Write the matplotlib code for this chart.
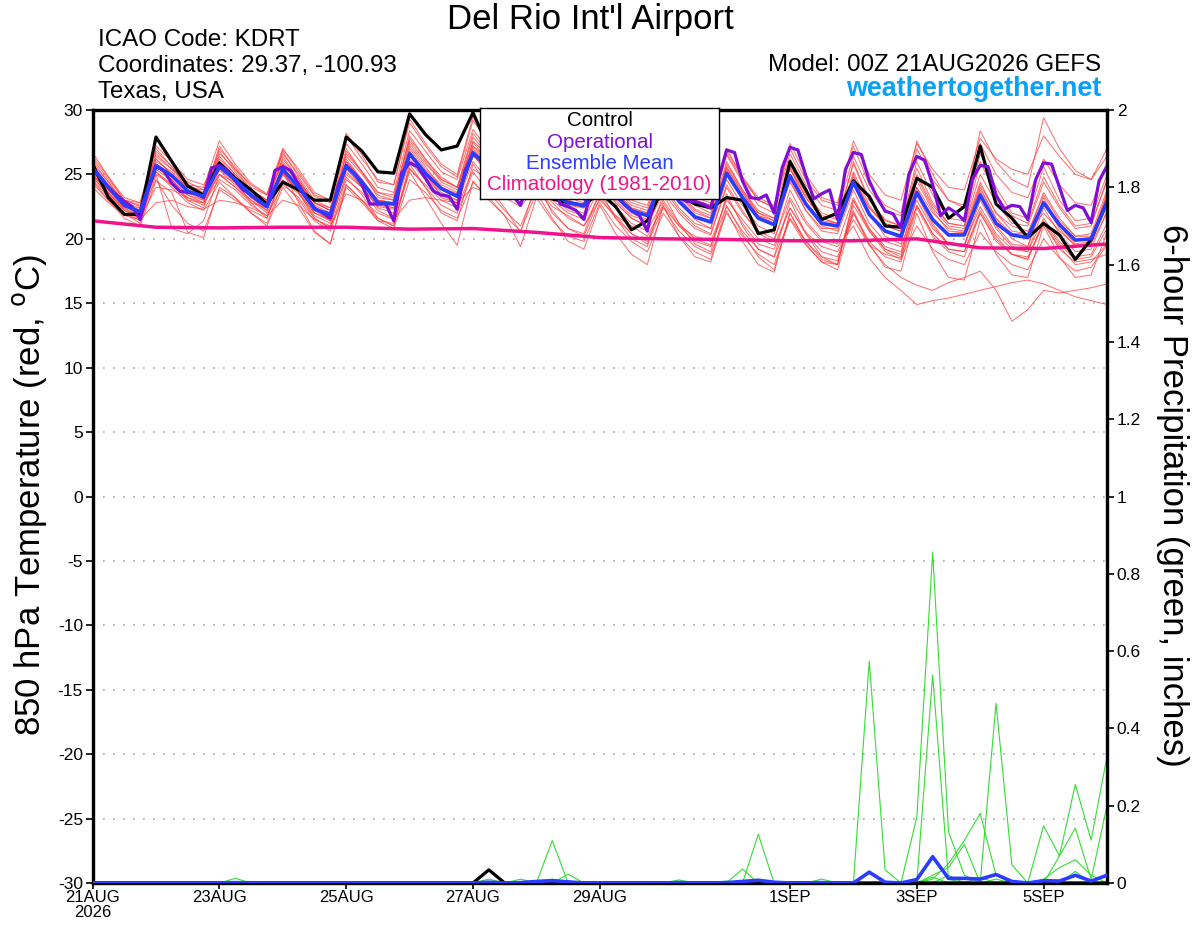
import matplotlib
matplotlib.use('Agg')
import matplotlib.pyplot as plt
import numpy as np

plt.rcParams['font.family'] = ['Liberation Sans', 'DejaVu Sans']

# ---------------- data ----------------
tick_days = [0, 2, 4, 6, 8, 11, 13, 15]
tick_labels = ['21AUG\n2026', '23AUG', '25AUG', '27AUG', '29AUG', '1SEP', '3SEP', '5SEP']
y_ticks_t = [-30, -25, -20, -15, -10, -5, 0, 5, 10, 15, 20, 25, 30]
y_ticks_p = [0, 0.2, 0.4, 0.6, 0.8, 1.0, 1.2, 1.4, 1.6, 1.8, 2.0]

control_t = [25.8, 23.2, 21.9, 21.9, 27.9, 26.0, 24.1, 23.4, 25.9, 24.7, 23.8, 22.7,
             24.4, 23.8, 23.0, 23.0, 27.9, 26.8, 25.2, 25.1, 29.7, 28.1, 26.9, 27.2,
             29.8, 27.0, 25.2, 24.3, 26.5, 23.1, 22.8, 22.6, 23.6, 22.5, 20.7, 21.4,
             24.0, 23.4, 22.7, 22.4, 23.2, 23.0, 20.4, 20.7, 26.0, 23.8, 21.5, 22.0,
             24.5, 23.3, 21.0, 20.9, 24.7, 24.0, 21.6, 22.5, 27.2, 22.7, 21.6, 20.1,
             21.2, 20.3, 18.4, 19.95, 22.9]

mean_t = [25.5, 24.0, 22.6, 22.1, 25.7, 24.9, 23.7, 23.3, 25.6, 24.6, 23.4, 22.5,
          25.4, 24.0, 22.3, 21.9, 25.7, 24.4, 22.8, 22.7, 26.6, 25.1, 23.9, 23.3,
          26.7, 25.5, 24.6, 23.6, 25.8, 23.6, 22.8, 22.6, 25.0, 23.3, 22.2, 21.8,
          24.6, 22.9, 21.7, 21.3, 25.1, 23.2, 21.6, 21.1, 24.9, 22.7, 21.2, 21.0,
          24.4, 21.9, 20.6, 20.2, 23.6, 21.5, 20.3, 20.3, 23.4, 21.2, 20.3, 20.1,
          22.8, 21.1, 19.9, 20.0, 22.8]

# operational run, 3-hourly
oper_t = [25.5, 24.8, 24.0, 23.4, 22.9, 22.5, 21.5, 23.8, 25.6, 25.3, 24.3, 23.7,
          23.6, 23.5, 23.2, 25.5, 25.7, 25.3, 24.5, 23.8, 23.4, 22.9, 22.5, 25.3,
          25.6, 25.3, 24.2, 23.2, 22.4, 22.0, 21.6, 24.2, 25.6, 25.1, 24.2, 22.7,
          22.7, 22.7, 21.4, 25.1, 25.9, 25.6, 24.7, 23.7, 23.4, 23.3, 22.3, 25.3,
          26.6, 26.2, 25.5, 24.5, 23.8, 23.4, 22.6, 24.8, 26.0, 25.6, 24.6, 22.7,
          22.5, 22.2, 21.5, 24.0, 25.3, 24.8, 23.8, 22.7, 22.2, 21.8, 20.6, 23.5,
          25.0, 24.6, 23.2, 22.9, 22.9, 22.7, 22.4, 24.7, 26.9, 26.7, 24.5, 23.2,
          23.1, 23.4, 22.0, 25.5, 27.1, 26.9, 24.9, 23.1, 23.5, 23.8, 21.5, 25.4,
          26.7, 26.55, 24.5, 23.2, 22.15, 21.95, 20.85, 25.0, 26.4, 26.1, 24.2, 21.8,
          22.4, 22.0, 21.4, 24.6, 25.7, 25.6, 23.4, 22.3, 22.6, 22.5, 21.5, 24.6,
          25.9, 25.8, 24.0, 22.2, 22.6, 22.4, 21.25, 24.5, 25.65]

# climatology, daily
clim_t = [21.4, 20.9, 20.85, 20.9, 20.9, 20.75, 20.8, 20.5, 20.1, 20.0,
          19.95, 19.85, 19.85, 20.0, 19.3, 19.25, 19.6]

m01 = [26.7, 24.8, 23.0, 22.8, 27.0, 25.6, 24.2, 24.0, 27.6, 25.8, 24.3, 23.5, 27.0, 25.2, 23.4, 23.0,
       28.2, 26.5, 24.4, 24.2, 29.3, 27.4, 25.8, 25.0, 29.5, 27.2, 26.0, 25.2, 28.0, 25.5, 24.3, 24.0,
       27.2, 25.0, 23.6, 23.2, 26.8, 24.6, 23.0, 22.6, 27.0, 24.8, 23.0, 22.5, 27.4, 25.0, 23.2, 22.8,
       27.2, 24.2, 22.6, 22.0, 27.6, 25.0, 23.0, 22.4, 28.4, 26.0, 24.6, 24.0, 29.4, 27.0, 25.3, 24.6, 27.0]
m02 = [25.0, 23.5, 22.3, 21.8, 26.2, 25.0, 23.6, 23.0, 26.0, 24.8, 23.2, 22.2, 25.8, 24.3, 22.6, 22.0,
       26.0, 24.5, 23.0, 22.8, 27.2, 25.6, 24.0, 23.5, 27.5, 26.0, 25.0, 23.8, 26.5, 24.0, 23.0, 22.4,
       25.3, 23.4, 22.0, 21.5, 25.0, 23.0, 21.5, 20.8, 25.6, 23.6, 21.8, 21.2, 25.5, 22.8, 21.0, 20.6,
       25.0, 22.0, 20.2, 19.6, 24.5, 22.2, 20.6, 20.5, 24.0, 21.6, 20.0, 19.4, 23.2, 21.0, 19.6, 19.8, 23.6]
m03 = [24.0, 22.8, 21.8, 21.5, 22.8, 23.0, 22.5, 22.3, 23.0, 22.8, 22.4, 21.8, 23.0, 22.6, 21.5, 21.0,
       23.5, 23.0, 22.0, 21.5, 23.0, 23.2, 23.0, 22.8, 24.0, 23.5, 23.2, 22.5, 24.0, 22.5, 21.8, 21.0,
       23.0, 21.8, 21.0, 20.2, 22.5, 21.0, 20.2, 19.8, 23.0, 21.5, 20.0, 19.5, 22.4, 20.5, 19.4, 19.0,
       21.5, 19.5, 18.8, 18.5, 21.0, 19.2, 18.4, 18.0, 20.5, 19.0, 18.0, 17.6, 20.0, 18.5, 17.5, 17.8, 19.5]
m04 = [25.8, 24.4, 22.8, 22.0, 26.6, 25.4, 24.2, 23.6, 26.4, 25.0, 23.6, 22.8, 25.0, 23.6, 22.0, 21.4,
       26.8, 25.2, 23.6, 23.2, 27.8, 26.2, 24.6, 24.0, 27.9, 26.4, 25.4, 24.5, 27.0, 24.8, 23.8, 23.4,
       26.2, 24.4, 23.0, 22.6, 26.0, 24.0, 22.6, 22.0, 26.5, 24.4, 22.6, 22.0, 26.2, 23.6, 22.0, 21.6,
       25.8, 23.0, 21.5, 21.0, 25.5, 22.8, 21.2, 21.0, 26.0, 23.4, 21.8, 21.2, 24.8, 22.6, 21.0, 21.2, 24.5]
m05 = [24.5, 23.0, 21.6, 21.0, 24.5, 23.6, 20.5, 20.1, 24.0, 23.2, 22.0, 21.0, 24.0, 22.4, 20.5, 19.6,
       24.2, 23.0, 21.6, 21.0, 25.5, 24.0, 22.0, 21.4, 25.8, 24.0, 22.4, 20.5, 24.5, 22.0, 20.8, 20.4,
       23.8, 21.6, 20.0, 19.4, 23.5, 21.2, 19.6, 19.0, 23.5, 21.0, 19.2, 18.6, 23.0, 20.4, 18.6, 18.3,
       22.2, 19.6, 17.8, 17.5, 22.0, 19.0, 17.0, 16.8, 21.5, 18.8, 17.2, 17.0, 21.0, 18.6, 17.0, 17.2, 20.5]
m06 = [26.2, 24.6, 23.0, 22.5, 25.0, 24.2, 23.0, 22.8, 27.0, 25.6, 24.0, 23.4, 26.6, 25.0, 23.3, 22.8,
       27.4, 25.8, 24.0, 23.6, 28.4, 26.8, 25.2, 24.6, 28.5, 26.8, 25.8, 24.8, 26.8, 24.6, 23.6, 23.2,
       26.0, 24.0, 22.8, 22.4, 25.5, 23.6, 22.3, 21.8, 26.0, 23.8, 22.0, 21.6, 25.8, 23.4, 21.8, 21.5,
       24.6, 22.0, 20.6, 20.0, 23.6, 21.5, 20.4, 20.5, 24.2, 22.0, 21.0, 20.6, 22.0, 20.6, 19.5, 19.6, 22.0]
m07 = [25.2, 23.8, 22.5, 22.0, 25.4, 24.5, 23.4, 23.0, 25.0, 24.0, 23.0, 22.0, 24.6, 23.5, 21.8, 21.2,
       25.0, 24.0, 22.4, 22.0, 26.0, 24.6, 23.2, 22.8, 26.0, 24.5, 23.5, 22.8, 24.8, 23.0, 22.0, 21.5,
       24.0, 22.5, 21.2, 20.6, 23.0, 21.2, 20.0, 19.5, 22.5, 20.6, 19.2, 18.6, 21.5, 19.5, 18.2, 17.6,
       22.0, 19.5, 18.0, 17.0, 16.4, 16.0, 16.6, 17.0, 17.5, 16.0, 13.6, 14.5, 16.0, 15.8, 16.0, 16.2, 16.5]
m08 = [24.8, 23.4, 22.2, 21.8, 25.2, 24.2, 23.2, 22.6, 25.3, 24.2, 23.0, 22.2, 25.2, 23.6, 22.0, 21.5,
       25.5, 24.0, 22.5, 22.3, 26.4, 25.0, 23.6, 23.0, 26.5, 25.0, 24.2, 23.2, 25.2, 23.4, 22.4, 22.0,
       24.4, 22.8, 21.6, 21.0, 23.6, 22.0, 20.8, 20.3, 24.0, 22.0, 20.6, 20.0, 23.2, 21.2, 19.8, 19.4,
       21.0, 18.5, 17.0, 16.0, 14.9, 15.2, 15.4, 15.7, 16.0, 16.3, 16.6, 16.8, 16.5, 16.0, 15.5, 15.2, 14.9]
m09 = [25.4, 23.6, 22.4, 22.4, 26.0, 25.2, 24.0, 23.8, 26.8, 25.2, 23.8, 23.0, 26.0, 24.4, 22.8, 22.2,
       26.4, 25.0, 23.4, 23.0, 27.4, 25.8, 24.6, 24.0, 27.2, 26.2, 25.2, 24.0, 26.2, 24.2, 23.2, 22.8,
       25.6, 23.8, 22.6, 22.2, 25.0, 23.4, 22.2, 21.6, 25.5, 23.6, 22.0, 21.4, 25.4, 23.2, 21.6, 21.2,
       26.0, 23.0, 21.4, 21.0, 26.0, 23.4, 21.6, 21.4, 26.6, 24.0, 22.0, 21.6, 25.6, 23.0, 21.4, 21.6, 25.0]
m10 = [24.3, 23.0, 22.0, 21.4, 25.6, 24.6, 23.4, 22.8, 25.0, 24.0, 22.8, 22.4, 25.6, 24.0, 22.4, 21.8,
       25.2, 24.0, 22.6, 22.4, 26.2, 24.8, 23.4, 23.0, 26.4, 25.4, 24.4, 23.4, 25.5, 23.6, 22.6, 22.4,
       24.8, 23.0, 21.8, 21.4, 24.2, 22.4, 21.2, 20.8, 24.6, 22.6, 21.0, 20.4, 24.6, 22.2, 20.6, 20.4,
       23.8, 21.2, 19.8, 19.4, 23.0, 20.8, 19.6, 19.6, 22.5, 20.4, 19.2, 19.0, 21.6, 19.8, 18.6, 18.8, 21.2]
m11 = [25.6, 24.2, 23.0, 22.6, 26.4, 25.4, 24.4, 23.8, 26.2, 25.0, 23.8, 23.0, 26.2, 24.6, 22.8, 22.2,
       26.6, 25.2, 23.6, 23.4, 27.6, 26.0, 24.4, 23.8, 27.6, 26.4, 25.4, 24.4, 27.2, 25.0, 24.0, 23.6,
       26.6, 24.8, 23.6, 23.2, 26.4, 24.6, 23.2, 22.8, 26.8, 24.8, 23.2, 22.6, 27.0, 24.6, 23.0, 22.6,
       27.6, 25.0, 23.4, 23.0, 27.4, 25.4, 24.0, 23.8, 27.8, 26.2, 25.4, 25.0, 28.0, 26.4, 25.0, 24.6, 26.4]
m12 = [25.0, 23.6, 22.2, 21.6, 24.0, 23.8, 23.2, 22.8, 24.6, 23.8, 22.6, 21.8, 24.2, 23.2, 21.6, 20.8,
       24.6, 23.6, 22.2, 21.6, 25.4, 24.2, 23.0, 22.4, 25.4, 24.6, 23.8, 22.6, 24.6, 22.8, 21.6, 21.0,
       23.4, 21.8, 20.4, 19.8, 22.8, 21.0, 19.8, 19.4, 23.2, 21.2, 19.6, 19.2, 22.4, 20.4, 19.0, 18.6,
       22.0, 19.8, 18.6, 18.2, 22.4, 20.2, 19.0, 18.6, 22.0, 20.0, 18.8, 18.4, 21.4, 19.6, 18.4, 18.6, 20.8]
m13 = [26.0, 24.4, 22.6, 22.2, 26.8, 25.6, 23.8, 23.2, 27.2, 25.4, 23.8, 23.0, 26.8, 24.8, 23.0, 22.4,
       27.0, 25.2, 23.2, 23.0, 28.0, 26.2, 24.8, 24.0, 28.2, 26.6, 25.6, 24.6, 26.4, 24.4, 23.4, 23.0,
       25.6, 23.6, 22.4, 22.0, 25.2, 23.2, 21.8, 21.4, 25.8, 23.8, 22.2, 21.6, 25.6, 23.2, 21.6, 21.2,
       25.2, 22.6, 21.0, 20.6, 24.8, 22.4, 21.0, 20.8, 24.4, 22.0, 20.6, 20.4, 23.6, 21.6, 20.2, 20.4, 23.8]
m14 = [24.6, 23.2, 22.0, 21.2, 25.0, 20.8, 20.4, 21.4, 25.0, 24.4, 22.8, 21.6, 25.0, 23.8, 22.2, 21.4,
       24.8, 23.4, 21.6, 21.0, 25.8, 24.0, 22.6, 22.0, 25.2, 23.6, 22.2, 21.0, 24.0, 22.2, 20.8, 20.2,
       23.2, 21.6, 20.4, 19.6, 22.4, 20.6, 19.4, 18.8, 22.0, 20.2, 18.8, 18.0, 21.6, 19.8, 18.6, 18.0,
       22.6, 20.6, 19.0, 18.4, 23.4, 21.0, 19.6, 19.4, 23.0, 20.8, 19.4, 19.0, 22.4, 20.4, 19.0, 19.2, 22.2]
m15 = [25.2, 24.0, 22.8, 22.4, 26.2, 25.0, 24.0, 23.4, 26.6, 25.4, 24.2, 23.4, 25.8, 24.4, 22.8, 22.4,
       26.0, 24.6, 23.0, 22.8, 27.0, 25.4, 24.2, 23.6, 27.2, 25.8, 24.8, 23.8, 25.6, 23.8, 22.8, 22.4,
       25.4, 23.6, 22.4, 22.0, 24.8, 23.0, 21.8, 21.4, 25.2, 23.2, 21.6, 21.2, 24.4, 22.2, 20.8, 20.8,
       24.6, 22.4, 21.2, 20.8, 24.0, 22.0, 20.8, 20.6, 23.8, 21.6, 20.4, 20.4, 23.4, 21.4, 20.2, 20.2, 23.4]
m16 = [25.4, 23.8, 22.4, 21.8, 24.6, 22.6, 21.2, 20.6, 23.8, 23.0, 22.2, 21.6, 25.2, 22.8, 20.6, 19.6,
       24.0, 22.8, 21.4, 21.2, 25.2, 23.2, 21.2, 19.5, 24.5, 23.0, 21.8, 19.4, 23.2, 21.4, 20.2, 19.8,
       22.8, 21.0, 19.8, 19.0, 22.0, 20.2, 19.0, 18.4, 22.6, 20.4, 18.6, 17.6, 22.0, 19.8, 18.4, 18.0,
       23.0, 20.8, 19.2, 18.8, 24.0, 21.2, 19.6, 19.4, 23.6, 21.0, 19.6, 19.4, 22.8, 20.8, 19.4, 19.6, 23.0]
m17 = [26.4, 24.8, 23.2, 22.8, 27.2, 26.0, 24.6, 24.2, 26.0, 24.4, 23.2, 22.6, 27.0, 25.4, 23.6, 23.0,
       28.0, 26.2, 24.6, 24.2, 29.0, 27.2, 25.6, 24.8, 29.2, 27.4, 26.2, 25.2, 27.6, 25.4, 24.4, 23.8,
       26.8, 24.8, 23.4, 23.0, 26.4, 24.4, 23.0, 22.6, 26.6, 24.6, 23.0, 22.4, 26.6, 24.2, 22.6, 22.2,
       26.4, 23.8, 22.2, 21.8, 27.0, 24.6, 23.0, 22.6, 27.4, 25.0, 23.6, 23.2, 26.2, 24.2, 22.8, 22.6, 25.8]
m18 = [24.8, 23.4, 22.0, 21.6, 25.6, 24.6, 23.0, 22.4, 25.8, 24.6, 23.2, 22.4, 25.2, 23.6, 21.6, 20.8,
       26.2, 24.6, 22.8, 22.4, 26.8, 25.0, 23.4, 22.8, 26.6, 25.0, 24.0, 22.8, 25.4, 23.4, 22.2, 21.8,
       24.6, 22.8, 21.6, 21.0, 24.0, 22.2, 21.0, 20.4, 24.2, 22.2, 20.4, 19.8, 23.8, 21.4, 20.0, 19.6,
       23.2, 20.8, 19.4, 19.0, 22.6, 20.4, 19.2, 19.0, 22.0, 19.8, 18.8, 18.6, 21.2, 19.2, 18.2, 18.4, 18.8]
m19 = [25.6, 24.0, 22.6, 22.2, 25.8, 25.0, 23.8, 23.4, 25.4, 24.4, 23.4, 22.6, 26.4, 24.6, 22.8, 22.2,
       25.4, 24.2, 23.0, 22.8, 26.8, 25.2, 24.0, 23.4, 27.0, 25.8, 24.8, 24.0, 26.0, 24.0, 23.0, 22.6,
       25.2, 23.4, 22.2, 21.8, 25.2, 23.4, 22.0, 21.6, 25.4, 23.4, 21.8, 21.4, 25.0, 22.8, 21.4, 21.2,
       24.8, 22.4, 21.0, 20.6, 25.0, 22.6, 21.2, 21.0, 25.0, 22.8, 21.2, 21.0, 24.4, 22.4, 20.8, 21.0, 24.6]
m20 = [25.0, 23.8, 22.6, 21.8, 25.2, 24.0, 22.8, 22.2, 24.4, 23.2, 22.0, 21.2, 24.4, 23.0, 21.4, 20.6,
       24.2, 23.0, 21.4, 20.8, 24.6, 23.6, 22.2, 21.6, 24.4, 23.2, 21.8, 20.6, 23.6, 21.6, 19.8, 19.2,
       22.6, 20.4, 18.8, 18.0, 22.6, 20.2, 18.6, 18.2, 22.2, 19.8, 18.0, 17.4, 22.0, 19.6, 18.2, 18.0,
       23.0, 20.6, 19.2, 18.6, 22.6, 20.4, 19.2, 19.0, 22.2, 20.2, 18.8, 18.4, 21.2, 19.4, 18.0, 18.2, 19.6]
members_t = [m01, m02, m03, m04, m05, m06, m07, m08, m09, m10,
             m11, m12, m13, m14, m15, m16, m17, m18, m19, m20]

# 6-hour precipitation (inches)
control_p = [0, 0, 0, 0, 0, 0, 0, 0, 0, 0, 0, 0, 0,
             0, 0, 0, 0, 0, 0, 0, 0, 0, 0, 0, 0, 0.034,
             0, 0, 0, 0, 0, 0, 0, 0, 0, 0, 0, 0, 0,
             0, 0, 0, 0, 0, 0, 0, 0, 0, 0, 0, 0, 0,
             0, 0, 0, 0, 0, 0, 0, 0, 0, 0, 0, 0, 0]
mean_p = [0, 0, 0, 0, 0, 0, 0, 0, 0, 0.001, 0, 0, 0,
          0, 0, 0, 0, 0, 0, 0, 0, 0, 0, 0, 0, 0.002,
          0, 0.001, 0.004, 0.006, 0.003, 0, 0, 0, 0, 0, 0, 0.001, 0,
          0, 0.001, 0.004, 0.007, 0.002, 0, 0, 0.001, 0, 0, 0.028, 0.002, 0,
          0.009, 0.068, 0.012, 0.012, 0.01, 0.022, 0.004, 0, 0.006, 0.005, 0.02, 0.005, 0.02]
pp01 = [0, 0, 0, 0, 0, 0, 0, 0, 0, 0.012, 0, 0, 0,
        0, 0, 0, 0, 0, 0, 0, 0, 0, 0, 0, 0, 0,
        0, 0, 0, 0, 0, 0, 0, 0, 0, 0, 0, 0, 0,
        0, 0, 0, 0, 0, 0, 0, 0, 0, 0, 0.574, 0.034, 0,
        0, 0, 0, 0, 0, 0, 0, 0, 0, 0, 0, 0, 0]
pp02 = [0, 0, 0, 0, 0, 0, 0, 0, 0, 0, 0, 0, 0,
        0, 0, 0, 0, 0, 0, 0, 0, 0, 0, 0, 0, 0,
        0, 0, 0, 0, 0, 0, 0, 0, 0, 0, 0, 0, 0,
        0, 0, 0, 0, 0, 0, 0, 0, 0, 0, 0, 0, 0,
        0.17, 0.855, 0.133, 0.02, 0, 0, 0, 0, 0, 0, 0, 0, 0]
pp03 = [0, 0, 0, 0, 0, 0, 0, 0, 0, 0, 0, 0, 0,
        0, 0, 0, 0, 0, 0, 0, 0, 0, 0, 0, 0, 0,
        0, 0, 0, 0.11, 0, 0, 0, 0, 0, 0, 0, 0, 0,
        0, 0, 0, 0, 0, 0, 0, 0, 0, 0, 0, 0, 0,
        0, 0.538, 0.01, 0, 0, 0, 0, 0, 0, 0, 0, 0, 0]
pp04 = [0, 0, 0, 0, 0, 0, 0, 0, 0, 0, 0, 0, 0,
        0, 0, 0, 0, 0, 0, 0, 0, 0, 0, 0, 0, 0,
        0, 0, 0, 0, 0, 0, 0, 0, 0, 0, 0, 0, 0,
        0, 0, 0.036, 0, 0, 0, 0, 0, 0, 0, 0, 0, 0,
        0, 0, 0, 0, 0, 0.465, 0.047, 0, 0, 0, 0, 0, 0]
pp05 = [0, 0, 0, 0, 0, 0, 0, 0, 0, 0, 0, 0, 0,
        0, 0, 0, 0, 0, 0, 0, 0, 0, 0, 0, 0, 0,
        0, 0, 0, 0, 0, 0, 0, 0, 0, 0, 0, 0, 0,
        0, 0, 0, 0.126, 0, 0, 0, 0, 0, 0, 0, 0, 0,
        0, 0, 0, 0, 0, 0, 0, 0, 0.148, 0.07, 0.255, 0.111, 0.327]
pp06 = [0, 0, 0, 0, 0, 0, 0, 0, 0, 0, 0, 0, 0,
        0, 0, 0, 0, 0, 0, 0, 0, 0, 0, 0, 0, 0.01,
        0, 0, 0, 0, 0.023, 0, 0, 0, 0, 0, 0, 0, 0,
        0, 0, 0, 0, 0, 0, 0, 0, 0, 0, 0, 0, 0,
        0, 0.01, 0.05, 0.11, 0.18, 0.02, 0, 0, 0, 0, 0, 0, 0]
pp07 = [0, 0, 0, 0, 0, 0, 0, 0, 0, 0, 0, 0, 0,
        0, 0, 0, 0, 0, 0, 0, 0, 0, 0, 0, 0, 0,
        0, 0, 0, 0, 0, 0, 0, 0, 0, 0, 0, 0, 0,
        0, 0, 0, 0, 0, 0, 0, 0, 0, 0, 0, 0, 0,
        0, 0, 0, 0, 0, 0, 0, 0, 0, 0.07, 0.142, 0.01, 0.2]
pp08 = [0, 0, 0, 0, 0, 0, 0, 0, 0, 0, 0, 0, 0,
        0, 0, 0, 0, 0, 0, 0, 0, 0, 0, 0, 0, 0,
        0, 0, 0, 0, 0, 0, 0, 0, 0, 0, 0, 0, 0,
        0, 0, 0, 0, 0, 0, 0, 0, 0, 0, 0, 0, 0,
        0, 0.02, 0.04, 0.10, 0, 0, 0, 0, 0, 0, 0, 0, 0]
pp09 = [0, 0, 0, 0, 0, 0, 0, 0, 0, 0, 0, 0, 0,
        0, 0, 0, 0, 0, 0, 0, 0, 0, 0, 0, 0, 0,
        0, 0.01, 0, 0, 0, 0, 0, 0, 0, 0, 0, 0, 0,
        0, 0, 0, 0, 0, 0, 0, 0, 0, 0, 0, 0, 0,
        0, 0, 0, 0, 0, 0, 0, 0, 0.01, 0.04, 0.06, 0.02, 0]
pp10 = [0, 0, 0, 0, 0, 0, 0, 0, 0, 0, 0, 0, 0,
        0, 0, 0, 0, 0, 0, 0, 0, 0, 0, 0, 0, 0,
        0, 0, 0, 0, 0, 0, 0, 0, 0, 0, 0, 0.008, 0,
        0, 0, 0, 0, 0, 0, 0, 0, 0, 0, 0, 0, 0,
        0, 0.015, 0, 0, 0, 0.01, 0, 0, 0, 0, 0, 0, 0]
pp11 = [0, 0, 0, 0, 0, 0, 0, 0, 0, 0, 0, 0, 0,
        0, 0, 0, 0, 0, 0, 0, 0, 0, 0, 0, 0, 0,
        0, 0, 0.005, 0.01, 0, 0, 0, 0, 0, 0, 0, 0, 0,
        0, 0.005, 0, 0, 0, 0, 0, 0.01, 0, 0, 0, 0, 0,
        0, 0, 0, 0, 0, 0, 0, 0, 0, 0, 0, 0, 0]
pp12 = [0, 0, 0, 0, 0, 0, 0, 0, 0, 0, 0, 0, 0,
        0, 0, 0, 0, 0, 0, 0, 0, 0, 0, 0, 0, 0,
        0, 0, 0, 0, 0, 0, 0, 0, 0, 0, 0, 0, 0,
        0, 0, 0, 0, 0, 0, 0, 0, 0, 0, 0, 0, 0,
        0, 0, 0.02, 0, 0.015, 0, 0, 0, 0, 0, 0.03, 0, 0]
members_p = [pp01, pp02, pp03, pp04, pp05, pp06, pp07, pp08, pp09, pp10, pp11, pp12]

# ---------------- figure ----------------
W, H = 1200, 927
fig = plt.figure(figsize=(W / 100, H / 100), dpi=100)
fig.patch.set_facecolor('white')

L, R, T, B = 92.6, 1107, 110, 883
ax = fig.add_axes([L / W, 1 - B / H, (R - L) / W, (B - T) / H])
ax.set_zorder(1)
ax2 = ax.twinx()
ax2.set_zorder(2)
ax.patch.set_visible(True)
ax2.patch.set_visible(False)

def hours(n, step):
    return np.arange(n) * step

for m in members_t:
    ax.plot(hours(len(m), 6), m, color='#ff3a3a', lw=0.7, alpha=0.75, zorder=2)
ax.plot(hours(len(clim_t), 24), clim_t, color='#f0148c', lw=2.5, zorder=3)
ax.plot(hours(len(control_t), 6), control_t, color='black', lw=2.3, zorder=4)
ax.plot(hours(len(oper_t), 3), oper_t, color='#7f0fd8', lw=2.3, zorder=5)
ax.plot(hours(len(mean_t), 6), mean_t, color='#2a3cff', lw=2.6, zorder=6)

for v in y_ticks_t[1:-1]:
    ax.axhline(v, color='#a8a8a8', lw=1.2, ls=(0, (1.0, 5.0)), zorder=0)

for p in members_p:
    ax2.plot(hours(len(p), 6), p, color='#33dd33', lw=0.8, zorder=2)
ax2.plot(hours(len(mean_p), 6), mean_p, color='#2a3cff', lw=2.6, zorder=4)
ax2.plot(hours(len(control_p), 6), control_p, color='black', lw=2.3, zorder=3)

ax.set_xlim(0, 384)
ax.set_ylim(-30, 30)
ax2.set_ylim(0, 2)

ax.set_xticks([d * 24 for d in tick_days])
ax.set_xticklabels(tick_labels, fontsize=12, linespacing=1.0)
ax.set_yticks(y_ticks_t)
ax.set_yticklabels([str(v) for v in y_ticks_t], fontsize=12.5)
ax2.set_yticks(y_ticks_p)
ax2.set_yticklabels(['%g' % v for v in y_ticks_p], fontsize=12.5)

ax.tick_params(axis='x', direction='out', length=4, width=1.2, pad=1)
ax.tick_params(axis='y', direction='out', length=5, width=1.2, pad=2)
ax2.tick_params(axis='y', direction='out', length=5, width=1.2, pad=2)

for a in (ax, ax2):
    for s in a.spines.values():
        s.set_linewidth(2.3)

# texts
def fx(x):
    return x / W

def fy(y):
    return 1 - y / H

fig.text(fx(590), fy(19), "Del Rio Int'l Airport", ha='center', va='center', fontsize=25)
fig.text(fx(98), fy(40), "ICAO Code: KDRT", ha='left', va='center', fontsize=17.4)
fig.text(fx(98), fy(66), "Coordinates: 29.37, -100.93", ha='left', va='center', fontsize=17.4)
fig.text(fx(98), fy(92), "Texas, USA", ha='left', va='center', fontsize=17.4)
fig.text(fx(1101), fy(65), "Model: 00Z 21AUG2026 GEFS", ha='right', va='center', fontsize=17.4)
fig.text(fx(1101), fy(89), "weathertogether.net", ha='right', va='center', fontsize=19.4,
         fontweight='bold', color='#0aa0f5')

fig.text(fx(30), fy(495), "850 hPa Temperature (red, $^\\mathrm{o}$C)", ha='center', va='center',
         rotation=90, fontsize=25)
fig.text(fx(1172), fy(495), "6-hour Precipitation (green, inches)", ha='center', va='center',
         rotation=-90, fontsize=25)

# legend box
lax = fig.add_axes([fx(480), fy(199), 239 / W, 91 / H])
lax.set_zorder(10)
lax.set_xticks([])
lax.set_yticks([])
lax.set_xlim(0, 1)
lax.set_ylim(0, 1)
for s in lax.spines.values():
    s.set_linewidth(1.0)
leg_items = [('Control', 'black'), ('Operational', '#7f0fd8'),
             ('Ensemble Mean', '#2a3cff'), ('Climatology (1981-2010)', '#f0148c')]
for k, (txt, col) in enumerate(leg_items):
    lax.text(0.5, 0.86 - k * 0.235, txt, ha='center', va='center', color=col, fontsize=14.8)

fig.savefig('out.png', dpi=100)
